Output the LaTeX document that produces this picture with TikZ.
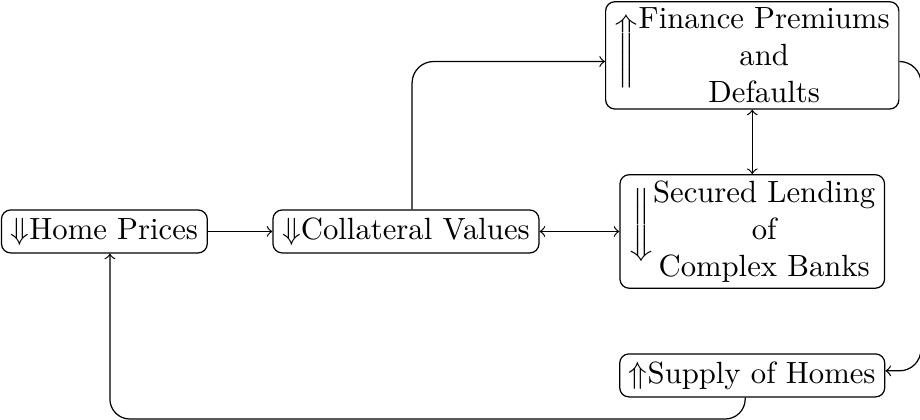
\documentclass[tikz,border=0pt]{standalone}
\usetikzlibrary{positioning}

\newcommand{\threelines}[3]{\vtop{\halign{\hfil##\hfil\cr#1\cr#2\cr#3\cr}}}
\newcommand{\bigarrow}[1]{\raisebox{\dimexpr4.6pt-\height\relax}[0pt][0pt]{$\bigg#1$}}

\begin{document}
\begin{tikzpicture}[>=to, node distance=21pt,
    box/.style={draw, rounded corners=3pt, inner xsep=3pt, inner ysep=2pt, minimum height=14pt}]
    \useasboundingbox (0,0) rectangle (299.7pt,-136.8pt);

    \node[box] (home) at (34pt,-75.4pt) {$\Downarrow$Home Prices};
    \node[box, right=21pt of home] (coll) {$\Downarrow$Collateral Values};
    \node[box, right=26pt of coll] (sec) {\bigarrow{\Downarrow}\threelines{Secured Lending}{of}{Complex Banks}};
    \node[box, above=of sec] (fin) {\bigarrow{\Uparrow}\threelines{Finance Premiums}{and}{Defaults}};
    \node[box, below=of sec] (sup) {$\Uparrow$Supply of Homes};

    \draw[->] (home) -- (coll);
    \draw[<->] (coll) -- (sec);
    \draw[<->] (sec) -- (fin);
    \draw[->, rounded corners=7pt] ([xshift=2pt]coll.north) |- ([yshift=-2pt]fin.west);
    \draw[->, rounded corners=7pt] ([yshift=-2pt]fin.east) -- ++(7pt,0) |- ([yshift=1.5pt]sup.east);
    \draw[->, rounded corners=6.5pt] ([xshift=-2.3pt]sup.south) -- ++(0,-7pt) -| ([xshift=1.8pt]home.south);
\end{tikzpicture}
\end{document}
